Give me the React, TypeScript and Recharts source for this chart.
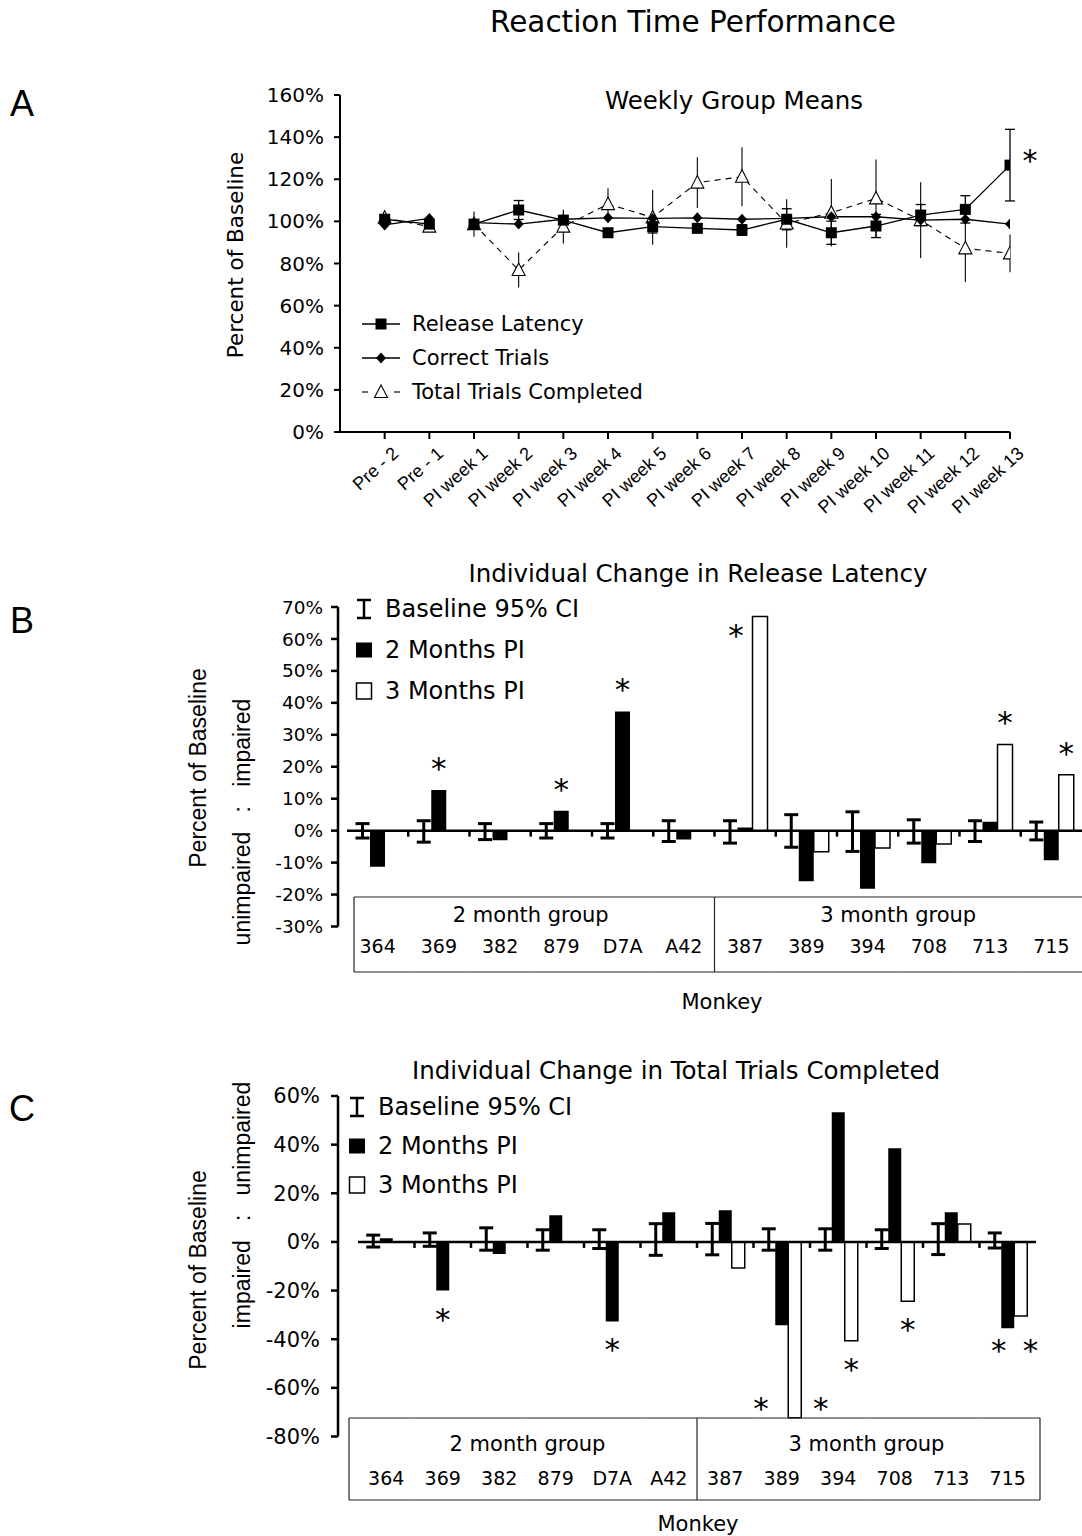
import React from 'react';
import { LineChart, Line, XAxis, YAxis, ErrorBar, BarChart, Bar, ReferenceLine, LabelList } from 'recharts';

const FONT = '"DejaVu Sans", Verdana, sans-serif';
const ARIAL = '"Liberation Sans", Arial, sans-serif';

// ---------- Panel A data ----------
const weeks = ['Pre - 2', 'Pre - 1', 'PI week 1', 'PI week 2', 'PI week 3', 'PI week 4', 'PI week 5', 'PI week 6', 'PI week 7', 'PI week 8', 'PI week 9', 'PI week 10', 'PI week 11', 'PI week 12', 'PI week 13'];
const releaseLatency = [101, 98.7, 98.7, 105.4, 100.6, 94.6, 97.5, 96.7, 95.9, 101, 94.6, 97.8, 103, 105.7, 126.7];
const releaseLatencyErr = [0, 0, 1.5, 4.5, 2, 1.5, 3, 2, 2.5, 5, 5.5, 5.5, 5, 6.5, 17];
const releaseLatencySig = [false, false, false, false, false, false, false, false, false, false, false, false, false, false, true];
const correctTrials = [98.3, 101.4, 99.4, 98.7, 101, 101.7, 101.4, 101.7, 101, 101.4, 102.2, 102.2, 100.6, 101, 98.7];
const totalTrials = [101.7, 97.5, 98.7, 76.9, 97.5, 108.2, 101.9, 118.4, 121.2, 99, 104.1, 110.9, 100.6, 87.2, 84.8];
const totalTrialsErr = [0, 0, 6, 8.3, 8, 7.5, 13, 12, 14, 11.5, 16, 18.5, 18, 16, 9];
const percentTicksA = [0, 20, 40, 60, 80, 100, 120, 140, 160];

// ---------- Panels B / C data ----------
const monkeys = ['364', '369', '382', '879', 'D7A', 'A42', '387', '389', '394', '708', '713', '715'];
const monkeyGroup = [0, 0, 0, 0, 0, 0, 1, 1, 1, 1, 1, 1];
const groupNames = ['2 month group', '3 month group'];

const latency2m = [-11.3, 12.7, -3, 6.2, 37.3, -2.8, 1, -15.8, -18.2, -10.2, 2.8, -9.3];
const latency3m = [null, null, null, null, null, null, 67, -6.6, -5.4, -4.2, 27, 17.5];
const latencyCiLow = [2.3, 3.6, 2.8, 2.3, 2.3, 3.4, 3.9, 5.2, 6.5, 3.9, 3.4, 2.9];
const latencyCiHigh = [2.2, 3.1, 2.2, 2.2, 2.2, 3.1, 3.1, 5, 5.9, 3.4, 3.1, 2.7];
const latencyStar2 = ['', 'end', '', 'end', 'end', '', '', '', '', '', '', ''];
const latencyStar3 = ['', '', '', '', '', '', 'left', '', '', '', 'end', 'end'];
const percentTicksB = [-30, -20, -10, 0, 10, 20, 30, 40, 50, 60, 70];

const trials2m = [1.5, -20, -5, 11, -32.7, 12.2, 13, -34.3, 53.3, 38.5, 12.2, -35.5];
const trials3m = [null, null, null, null, null, null, -10.7, -72.3, -40.6, -24.4, 7.4, -30.5];
const trialsCiLow = [2.1, 1.8, 3.4, 3.4, 2.7, 5.5, 5.3, 3.4, 3.4, 2.7, 5.2, 2.5];
const trialsCiHigh = [2.8, 3.7, 5.8, 5, 5, 7.5, 7.6, 5.4, 5.4, 5, 7.5, 3.7];
const trialsStar2 = ['', 'end', '', '', 'end', '', '', 'left', '', '', '', 'pairL'];
const trialsStar3 = ['', '', '', '', '', '', '', 'right', 'end', 'end', '', 'pairR'];
const percentTicksC = [-80, -60, -40, -20, 0, 20, 40, 60];

const weekRows = weeks.map((w, i) => ({
  i,
  rl: releaseLatency[i],
  rlErr: releaseLatencyErr[i],
  rlSig: releaseLatencySig[i] ? '*' : '',
  ct: correctTrials[i],
  tt: totalTrials[i],
  ttErr: totalTrialsErr[i],
}));
const preRows = weekRows.slice(0, 2);
const postRows = weekRows.slice(2);

const buildRows = (m2: (number | null)[], m3: (number | null)[], lo: number[], hi: number[], s2: string[], s3: string[]) =>
  monkeys.map((m, i) => ({
    monkey: m,
    ciMid: (hi[i] - lo[i]) / 2,
    ciHalf: (hi[i] + lo[i]) / 2,
    m2: m2[i],
    m3: m3[i],
    s2: s2[i] ? `${s2[i]}:${i}` : '',
    s3: s3[i] ? `${s3[i]}:${i}` : '',
  }));

const latencyRows = buildRows(latency2m, latency3m, latencyCiLow, latencyCiHigh, latencyStar2, latencyStar3);
const trialsRows = buildRows(trials2m, trials3m, trialsCiLow, trialsCiHigh, trialsStar2, trialsStar3);

// ---------- markers ----------
const SquareDot = (p: any) => {
  if (p.cx == null || p.cy == null || p.value == null) return <g key={p.key} />;
  return <rect key={p.key} x={p.cx - 5.5} y={p.cy - 5.5} width={11} height={11} fill="#000" />;
};
const DiamondDot = (p: any) => {
  if (p.cx == null || p.cy == null || p.value == null) return <g key={p.key} />;
  const { cx, cy } = p;
  return <path key={p.key} d={`M${cx},${cy - 5.5} L${cx + 5},${cy} L${cx},${cy + 5.5} L${cx - 5},${cy} Z`} fill="#000" />;
};
const TriangleDot = (p: any) => {
  if (p.cx == null || p.cy == null || p.value == null) return <g key={p.key} />;
  const { cx, cy } = p;
  return <path key={p.key} d={`M${cx},${cy - 7} L${cx + 6.5},${cy + 5.5} L${cx - 6.5},${cy + 5.5} Z`} fill="#fff" stroke="#000" strokeWidth={1.1} />;
};

const WeekTick = (p: any) => {
  const { x, y, payload } = p;
  const ax = x + 15;
  const ay = y + 14;
  return (
    <text x={ax} y={ay} transform={`rotate(-42 ${ax} ${ay})`} textAnchor="end" fontFamily={ARIAL} fontSize={18} fill="#000">
      {weeks[payload.value]}
    </text>
  );
};

const StarA = (p: any) => {
  const vb = p.viewBox || p;
  const x = p.x ?? vb.x;
  const y = p.y ?? vb.y;
  if (!p.value) return null;
  return (
    <text x={x + 20} y={y + 6} fontSize={30} textAnchor="middle" fontFamily={FONT} fill="#000">*</text>
  );
};

function PanelA() {
  return (
    <div style={{ position: 'absolute', left: 0, top: 0 }}>
      <LineChart width={1082} height={520} margin={{ top: 95, right: 72, left: 0, bottom: 0 }}>
        <XAxis
          type="number"
          dataKey="i"
          domain={[-1, 14]}
          ticks={weeks.map((_, i) => i)}
          interval={0}
          height={88}
          tickSize={7}
          tickMargin={2}
          axisLine={{ stroke: '#000', strokeWidth: 2 }}
          tickLine={{ stroke: '#000', strokeWidth: 2 }}
          tick={<WeekTick />}
          allowDataOverflow
        />
        <YAxis
          type="number"
          domain={[0, 160]}
          ticks={percentTicksA}
          interval={0}
          width={340}
          tickSize={6}
          tickMargin={10}
          tickFormatter={(v: number) => `${v}%`}
          axisLine={{ stroke: '#000', strokeWidth: 2 }}
          tickLine={{ stroke: '#000', strokeWidth: 2 }}
          tick={{ fill: '#000', fontSize: 20, fontFamily: FONT }}
        />
        {[preRows, postRows].map((rows, k) => (
          <Line key={`tt${k}`} data={rows} dataKey="tt" stroke="#000" strokeWidth={1.1} strokeDasharray="6 5" dot={<TriangleDot />} activeDot={false} isAnimationActive={false}>
            <ErrorBar dataKey="ttErr" width={0} stroke="#000" strokeWidth={1.1} direction="y" />
          </Line>
        ))}
        {[preRows, postRows].map((rows, k) => (
          <Line key={`ct${k}`} data={rows} dataKey="ct" stroke="#000" strokeWidth={1.3} dot={<DiamondDot />} activeDot={false} isAnimationActive={false} />
        ))}
        {[preRows, postRows].map((rows, k) => (
          <Line key={`rl${k}`} data={rows} dataKey="rl" stroke="#000" strokeWidth={1.3} dot={<SquareDot />} activeDot={false} isAnimationActive={false}>
            <ErrorBar dataKey="rlErr" width={5} stroke="#000" strokeWidth={1.3} direction="y" />
            <LabelList dataKey="rlSig" content={<StarA />} />
          </Line>
        ))}
      </LineChart>
    </div>
  );
}

// ---------- Bar panels ----------
type BarCfg = {
  rows: any[];
  top: number;
  height: number;
  plotTop: number;
  plotBottom: number;
  axisX: number;
  catLeft: number;
  catRight: number;
  domain: [number, number];
  ticks: number[];
  tickFont: number;
  tickMargin: number;
  catGap: number;
  capW: number;
  boxTop: number;
  boxBottom: number;
  boxInsetL: number;
  boxInsetR: number;
  groupY: number;
  idY: number;
  labelFont: number;
};

const STAR_SIZE = 31;
const STAR_BASE = 10; // baseline offset from visual centre of the asterisk glyph

const makeStar = (rows: any[], key: string) => (p: any) => {
  const raw = p.value;
  if (!raw || typeof raw !== 'string') return null;
  const [code, idxStr] = raw.split(':');
  const row = rows[Number(idxStr)];
  const vb = p.viewBox && p.viewBox.width != null ? p.viewBox : p;
  const x = vb.x, y = vb.y, width = vb.width, height = vb.height;
  const v = row[key];
  if (v == null || v === 0) return null;
  const top = Math.min(y, y + height);
  const bottom = Math.max(y, y + height);
  const pos = v > 0;
  const end = pos ? top : bottom;
  const zero = pos ? bottom : top;
  const ppu = (bottom - top) / Math.abs(v);
  const cx = x + width / 2;
  const ext = Math.max(Math.abs(row.m2 ?? 0), Math.abs(row.m3 ?? 0));
  const extY = pos ? zero - ext * ppu : zero + ext * ppu;
  let sx = cx;
  let sy: number;
  if (code === 'end') {
    sy = pos ? end - 21 : end + 29;
  } else if (code === 'pairL' || code === 'pairR') {
    sy = pos ? extY - 21 : extY + 23;
    sx = code === 'pairL' ? cx - 0.7 * width : cx + 0.75 * width;
  } else {
    sy = pos ? extY + 19 : extY - 9;
    sx = code === 'left' ? cx - 1.6 * width : cx + 2 * width;
  }
  return (
    <text x={sx} y={sy + STAR_BASE} fontSize={STAR_SIZE} textAnchor="middle" fontFamily={FONT} fill="#000">*</text>
  );
};

const makeTableTick = (cfg: BarCfg) => (p: any) => {
  const n = cfg.rows.length;
  const catW = (cfg.catRight - cfg.catLeft) / n;
  const { x, y, payload } = p;
  const i = monkeys.indexOf(payload.value);
  const left = x - catW / 2;
  const right = x + catW / 2;
  const l = i === 0 ? left + cfg.boxInsetL : left;
  const r = i === n - 1 ? right + cfg.boxInsetR : right;
  const yt = y + cfg.boxTop;
  const yb = y + cfg.boxBottom;
  const g = monkeyGroup[i];
  const first = monkeyGroup.indexOf(g);
  const last = monkeyGroup.lastIndexOf(g);
  const mid = first + Math.floor((last - first) / 2);
  const stroke = '#222';
  return (
    <g>
      <line x1={l} y1={yt} x2={r} y2={yt} stroke={stroke} strokeWidth={1.2} />
      <line x1={l} y1={yb} x2={r} y2={yb} stroke={stroke} strokeWidth={1.2} />
      {i === 0 && <line x1={l} y1={yt} x2={l} y2={yb} stroke={stroke} strokeWidth={1.2} />}
      {i === n - 1 && <line x1={r} y1={yt} x2={r} y2={yb} stroke={stroke} strokeWidth={1.2} />}
      {i > 0 && monkeyGroup[i - 1] !== g && <line x1={left} y1={yt} x2={left} y2={yb} stroke={stroke} strokeWidth={1.2} />}
      <text x={x} y={y + cfg.idY} textAnchor="middle" dominantBaseline="central" fontFamily={FONT} fontSize={19} fill="#000">
        {payload.value}
      </text>
      {i === mid && (
        <text x={x + ((first + last) / 2 - i) * catW} y={y + cfg.groupY} textAnchor="middle" dominantBaseline="central" fontFamily={FONT} fontSize={cfg.labelFont} fill="#000">
          {groupNames[g]}
        </text>
      )}
    </g>
  );
};

const ZeroLine = (n: number) => (p: any) => {
  const { x1, x2, y1 } = p;
  const bw = (x2 - x1) / n;
  return (
    <g>
      <line x1={x1} y1={y1} x2={x2} y2={y1} stroke="#000" strokeWidth={2.5} />
      {Array.from({ length: n - 1 }, (_, k) => (
        <line key={k} x1={x1 + (k + 1) * bw} y1={y1} x2={x1 + (k + 1) * bw} y2={y1 + 6} stroke="#000" strokeWidth={2.5} />
      ))}
    </g>
  );
};

function BarPanel({ cfg }: { cfg: BarCfg }) {
  const XH = 60;
  const marginBottom = cfg.height - (cfg.plotBottom - cfg.top) - XH;
  return (
    <div style={{ position: 'absolute', left: 0, top: cfg.top }}>
      <BarChart
        width={1082}
        height={cfg.height}
        data={cfg.rows}
        margin={{ top: cfg.plotTop - cfg.top, right: 1082 - cfg.catRight, left: 0, bottom: marginBottom }}
        barCategoryGap={cfg.catGap}
        barGap={0}
      >
        <XAxis dataKey="monkey" interval={0} height={XH} tickSize={0} tickMargin={0} axisLine={false} tickLine={false} tick={makeTableTick(cfg)} />
        <YAxis
          yAxisId="b"
          type="number"
          domain={cfg.domain}
          ticks={cfg.ticks}
          interval={0}
          width={cfg.axisX}
          tickSize={7}
          tickMargin={cfg.tickMargin}
          tickFormatter={(v: number) => `${v}%`}
          axisLine={{ stroke: '#000', strokeWidth: 2.5 }}
          tickLine={{ stroke: '#000', strokeWidth: 2.5 }}
          tick={{ fill: '#000', fontSize: cfg.tickFont, fontFamily: FONT }}
          allowDataOverflow
        />
        <YAxis yAxisId="a" width={cfg.catLeft - cfg.axisX} tick={false} axisLine={false} tickLine={false} />
        <ReferenceLine yAxisId="b" y={0} shape={ZeroLine(cfg.rows.length)} />
        <Bar yAxisId="b" dataKey="ciMid" fill="none" isAnimationActive={false}>
          <ErrorBar dataKey="ciHalf" width={cfg.capW} stroke="#000" strokeWidth={3} direction="y" />
        </Bar>
        <Bar yAxisId="b" dataKey="m2" fill="#000" isAnimationActive={false}>
          <LabelList dataKey="s2" content={makeStar(cfg.rows, 'm2')} />
        </Bar>
        <Bar yAxisId="b" dataKey="m3" fill="#fff" stroke="#000" strokeWidth={1.5} isAnimationActive={false}>
          <LabelList dataKey="s3" content={makeStar(cfg.rows, 'm3')} />
        </Bar>
      </BarChart>
    </div>
  );
}

const cfgB: BarCfg = {
  rows: latencyRows,
  top: 560,
  height: 460,
  plotTop: 607,
  plotBottom: 926.5,
  axisX: 338,
  catLeft: 347,
  catRight: 1082,
  domain: [-30, 70],
  ticks: percentTicksB,
  tickFont: 18.5,
  tickMargin: 8,
  catGap: 8,
  capW: 7,
  boxTop: -29.5,
  boxBottom: 45.5,
  boxInsetL: 7,
  boxInsetR: 2,
  groupY: -11.5,
  idY: 19.5,
  labelFont: 21,
};

const cfgC: BarCfg = {
  rows: trialsRows,
  top: 1050,
  height: 486,
  plotTop: 1096,
  plotBottom: 1436.5,
  axisX: 338,
  catLeft: 358,
  catRight: 1036,
  domain: [-80, 60],
  ticks: percentTicksC,
  tickFont: 21,
  tickMargin: 11,
  catGap: 8.75,
  capW: 7,
  boxTop: -18.5,
  boxBottom: 63.5,
  boxInsetL: -9,
  boxInsetR: 4,
  groupY: 7.5,
  idY: 41.5,
  labelFont: 21,
};

// ---------- overlay: titles, legends, axis titles ----------
function LegendLines() {
  const rows = [
    { y: 324, label: 'Release Latency', kind: 'square' },
    { y: 358, label: 'Correct Trials', kind: 'diamond' },
    { y: 392, label: 'Total Trials Completed', kind: 'triangle' },
  ];
  const cx = 381;
  return (
    <g>
      {rows.map((r) => (
        <g key={r.label}>
          {r.kind === 'triangle' ? (
            <g>
              <line x1={362} y1={r.y} x2={368} y2={r.y} stroke="#000" strokeWidth={1.2} />
              <line x1={394} y1={r.y} x2={400} y2={r.y} stroke="#000" strokeWidth={1.2} />
              <path d={`M${cx},${r.y - 7} L${cx + 6.5},${r.y + 5.5} L${cx - 6.5},${r.y + 5.5} Z`} fill="#fff" stroke="#000" strokeWidth={1.1} />
            </g>
          ) : (
            <g>
              <line x1={362} y1={r.y} x2={400} y2={r.y} stroke="#000" strokeWidth={1.3} />
              {r.kind === 'square' ? (
                <rect x={cx - 5.5} y={r.y - 5.5} width={11} height={11} fill="#000" />
              ) : (
                <path d={`M${cx},${r.y - 5.5} L${cx + 5},${r.y} L${cx},${r.y + 5.5} L${cx - 5},${r.y} Z`} fill="#000" />
              )}
            </g>
          )}
          <text x={412} y={r.y} dominantBaseline="central" fontFamily={FONT} fontSize={21} fill="#000">{r.label}</text>
        </g>
      ))}
    </g>
  );
}

function LegendBars({ x, ys, textX }: { x: number; ys: number[]; textX: number }) {
  const labels = ['Baseline 95% CI', '2 Months PI', '3 Months PI'];
  return (
    <g>
      <g>
        <line x1={x - 7} y1={ys[0] - 9} x2={x + 7} y2={ys[0] - 9} stroke="#000" strokeWidth={2.5} />
        <line x1={x - 7} y1={ys[0] + 9} x2={x + 7} y2={ys[0] + 9} stroke="#000" strokeWidth={2.5} />
        <line x1={x} y1={ys[0] - 9} x2={x} y2={ys[0] + 9} stroke="#000" strokeWidth={2.5} />
      </g>
      <rect x={x - 8} y={ys[1] - 7.5} width={16} height={15} fill="#000" />
      <rect x={x - 7.5} y={ys[2] - 8} width={15} height={16} fill="#fff" stroke="#000" strokeWidth={1.5} />
      {labels.map((l, k) => (
        <text key={l} x={textX} y={ys[k]} dominantBaseline="central" fontFamily={FONT} fontSize={24} fill="#000">{l}</text>
      ))}
    </g>
  );
}

function Overlay() {
  return (
    <svg width={1082} height={1536} style={{ position: 'absolute', left: 0, top: 0, pointerEvents: 'none' }}>
      <text x={693} y={22} textAnchor="middle" dominantBaseline="central" fontFamily={FONT} fontSize={29.5} fill="#000">Reaction Time Performance</text>
      <text x={22} y={103} textAnchor="middle" dominantBaseline="central" fontFamily={ARIAL} fontSize={36} fill="#000">A</text>
      <text x={22} y={620} textAnchor="middle" dominantBaseline="central" fontFamily={ARIAL} fontSize={36} fill="#000">B</text>
      <text x={22} y={1108} textAnchor="middle" dominantBaseline="central" fontFamily={ARIAL} fontSize={36} fill="#000">C</text>

      <text x={734} y={100} textAnchor="middle" dominantBaseline="central" fontFamily={FONT} fontSize={24.5} fill="#000">Weekly Group Means</text>
      <text x={698} y={573} textAnchor="middle" dominantBaseline="central" fontFamily={FONT} fontSize={24.5} fill="#000">Individual Change in Release Latency</text>
      <text x={676} y={1070} textAnchor="middle" dominantBaseline="central" fontFamily={FONT} fontSize={24.5} fill="#000">Individual Change in Total Trials Completed</text>

      <text x={235} y={255} textAnchor="middle" dominantBaseline="central" transform="rotate(-90 235 255)" fontFamily={FONT} fontSize={21.5} fill="#000">Percent of Baseline</text>

      <text x={198} y={768} textAnchor="middle" dominantBaseline="central" transform="rotate(-90 198 768)" fontFamily={ARIAL} fontSize={23} fill="#000">Percent of Baseline</text>
      <text x={242} y={822} textAnchor="middle" dominantBaseline="central" transform="rotate(-90 242 822)" fontFamily={ARIAL} fontSize={23} fill="#000" style={{ whiteSpace: 'pre' }}>{'unimpaired   :   impaired'}</text>

      <text x={198} y={1270} textAnchor="middle" dominantBaseline="central" transform="rotate(-90 198 1270)" fontFamily={ARIAL} fontSize={23} fill="#000">Percent of Baseline</text>
      <text x={242} y={1205} textAnchor="middle" dominantBaseline="central" transform="rotate(-90 242 1205)" fontFamily={ARIAL} fontSize={23} fill="#000" style={{ whiteSpace: 'pre' }}>{'impaired   :   unimpaired'}</text>

      <text x={722} y={1002} textAnchor="middle" dominantBaseline="central" fontFamily={FONT} fontSize={21} fill="#000">Monkey</text>
      <text x={698} y={1524} textAnchor="middle" dominantBaseline="central" fontFamily={FONT} fontSize={21} fill="#000">Monkey</text>

      <LegendLines />
      <LegendBars x={364} ys={[609, 650, 691]} textX={385} />
      <LegendBars x={357} ys={[1107, 1146, 1185]} textX={378} />
    </svg>
  );
}

export default function App() {
  return (
    <div style={{ position: 'absolute', left: 0, top: 0, width: 1082, height: 1536, background: '#fff', overflow: 'hidden' }}>
      <PanelA />
      <BarPanel cfg={cfgB} />
      <BarPanel cfg={cfgC} />
      <Overlay />
    </div>
  );
}
